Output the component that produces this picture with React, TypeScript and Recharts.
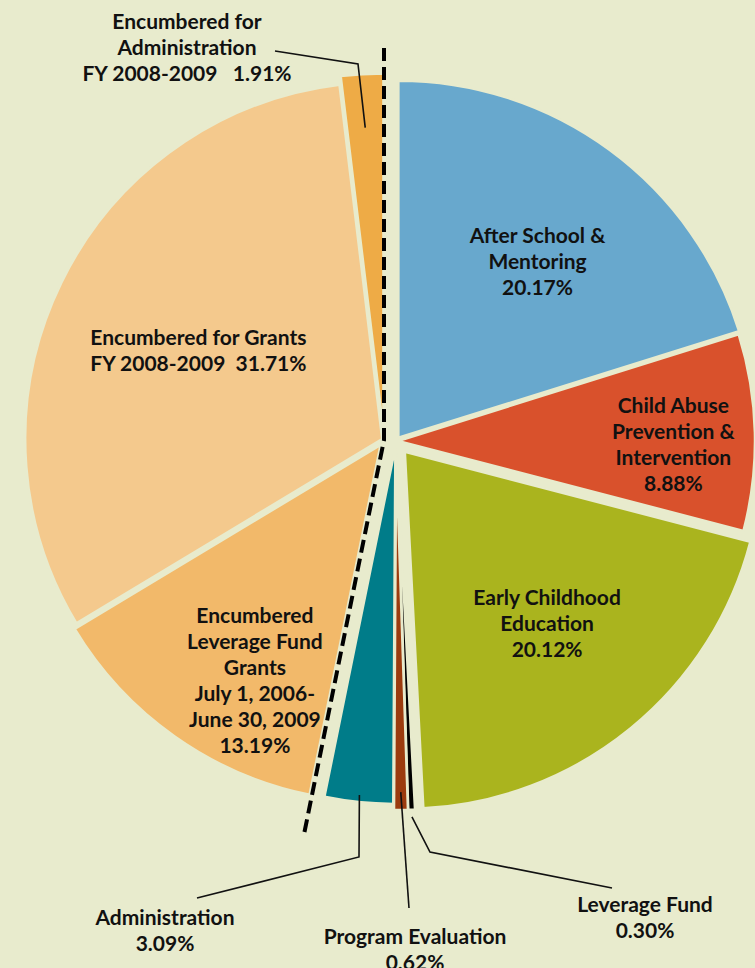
import React from 'react';
import { PieChart, Pie, Cell, Sector } from 'recharts';

// ---------- data ----------
const spentCategories = [
  'After School & Mentoring',
  'Child Abuse Prevention & Intervention',
  'Early Childhood Education',
  'Leverage Fund',
  'Program Evaluation',
  'Administration',
];
const spentValues = [20.17, 8.88, 20.12, 0.3, 0.62, 3.09];

const encumberedCategories = [
  'Encumbered Leverage Fund Grants',
  'Encumbered for Grants',
  'Encumbered for Administration',
];
const encumberedValues = [13.19, 31.71, 1.91];

// label text (value appended from the value arrays)
const labelHeads: Record<string, string[]> = {
  'After School & Mentoring': ['After School &', 'Mentoring'],
  'Child Abuse Prevention & Intervention': ['Child Abuse', 'Prevention &', 'Intervention'],
  'Early Childhood Education': ['Early Childhood', 'Education'],
  'Leverage Fund': ['Leverage Fund'],
  'Program Evaluation': ['Program Evaluation'],
  Administration: ['Administration'],
  'Encumbered Leverage Fund Grants': ['Encumbered', 'Leverage Fund', 'Grants', 'July 1, 2006-', 'June 30, 2009'],
  'Encumbered for Grants': ['Encumbered for Grants'],
  'Encumbered for Administration': ['Encumbered for', 'Administration'],
};
// text placed before the value on the same line (otherwise value on own line)
const inlinePrefix: Record<string, string> = {
  'Encumbered for Grants': 'FY 2008-2009  ',
  'Encumbered for Administration': 'FY 2008-2009   ',
};

// ---------- styles / layout ----------
const W = 755;
const H = 968;
const BG = '#e8ebcd';
const R = 357;
const CR = { x: 396, y: 441 }; // spent group centre
const CL = { x: 384, y: 440 }; // encumbered group centre
const GAP = 2.5;
const FONT = 'Lato, "Open Sans", sans-serif';
const FS = 21;
const LH = 26;

const spentColors = ['#68a8cd', '#d9512c', '#aab41e', '#000000', '#9b3b0e', '#007c89'];
const encumberedColors = ['#f2b96a', '#f4c98d', '#eeab46'];

const explode: Record<string, number> = {
  'After School & Mentoring': 4,
  'Child Abuse Prevention & Intervention': 2,
  'Early Childhood Education': 14,
  'Leverage Fund': 12,
  'Program Evaluation': 12,
  Administration: 6,
  'Encumbered Leverage Fund Grants': 6,
  'Encumbered for Grants': 2,
  'Encumbered for Administration': 9.5,
};

type InsideLayout = { kind: 'inside'; frac: number; dx: number; dy: number };
type OutsideLayout = { kind: 'outside'; frac: number; path: [number, number][]; tx: number; ty: number };
const labelLayout: Record<string, InsideLayout | OutsideLayout> = {
  'After School & Mentoring': { kind: 'inside', frac: 0.63, dx: 6, dy: 3.5 },
  'Child Abuse Prevention & Intervention': { kind: 'inside', frac: 0.78, dx: -3, dy: 9 },
  'Early Childhood Education': { kind: 'inside', frac: 0.635, dx: -1, dy: -5.5 },
  'Encumbered for Grants': { kind: 'inside', frac: 0.573, dx: 0, dy: 0 },
  'Encumbered Leverage Fund Grants': { kind: 'inside', frac: 0.744, dx: 27.5, dy: 18 },
  'Encumbered for Administration': { kind: 'outside', frac: 0.85, path: [[-26, -376], [-109, -389]], tx: -197, ty: -420 },
  Administration: { kind: 'outside', frac: 0.98, path: [[-37, 416], [-199, 457]], tx: -231, ty: 475 },
  'Program Evaluation': { kind: 'outside', frac: 0.95, path: [[13, 467]], tx: 19, ty: 494 },
  'Leverage Fund': { kind: 'outside', frac: 1.02, path: [[34, 411], [216, 447]], tx: 249, ty: 462 },
};

const RAD = Math.PI / 180;
const polar = (cx: number, cy: number, r: number, a: number) => ({
  x: cx + r * Math.cos(-a * RAD),
  y: cy + r * Math.sin(-a * RAD),
});

const spentData = spentCategories.map((name, i) => ({ name, value: spentValues[i] }));
const encumberedData = encumberedCategories.map((name, i) => ({ name, value: encumberedValues[i] }));

const total = [...spentValues, ...encumberedValues].reduce((a, b) => a + b, 0);
const spentSum = spentValues.reduce((a, b) => a + b, 0);
const splitAngle = 90 - (360 * spentSum) / total;

const keyOf = (p: any) => (p?.payload?.name ?? p?.name) as string;

function ExplodedSector(props: any) {
  const { cx, cy, innerRadius, outerRadius, startAngle, endAngle, midAngle, fill } = props;
  const d = explode[keyOf(props)] ?? 0;
  const o = polar(0, 0, d, midAngle);
  return (
    <Sector
      cx={cx + o.x}
      cy={cy + o.y}
      innerRadius={innerRadius}
      outerRadius={outerRadius}
      startAngle={startAngle}
      endAngle={endAngle}
      fill={fill}
      stroke={BG}
      strokeWidth={GAP}
    />
  );
}

function valueText(v: number) {
  return `${v.toFixed(2)}%`;
}

function renderLabel(props: any) {
  const { cx, cy, midAngle, outerRadius, value } = props;
  const key = keyOf(props);
  const L = labelLayout[key];
  if (!L) return null;
  const d = explode[key] ?? 0;
  const apex = polar(cx, cy, d, midAngle);
  const heads = labelHeads[key] || [];
  const lines = inlinePrefix[key] !== undefined ? [...heads, inlinePrefix[key] + valueText(value)] : [...heads, valueText(value)];
  const textStyle: React.CSSProperties = { whiteSpace: 'pre' };
  if (L.kind === 'inside') {
    const c = polar(apex.x, apex.y, outerRadius * L.frac, midAngle);
    const tx = c.x + L.dx;
    const ty = c.y + L.dy;
    const n = lines.length;
    return (
      <g>
        {lines.map((t, i) => (
          <text
            key={i}
            x={tx}
            y={ty + (i - (n - 1) / 2) * LH}
            textAnchor="middle"
            dominantBaseline="central"
            fontFamily={FONT}
            fontWeight={700}
            fontSize={FS}
            fill="#111"
            style={textStyle}
          >
            {t}
          </text>
        ))}
      </g>
    );
  }
  const a = polar(apex.x, apex.y, outerRadius * L.frac, midAngle);
  const pts = [a, ...L.path.map(([px, py]) => ({ x: cx + px, y: cy + py }))];
  const dPath = pts.map((p, i) => `${i === 0 ? 'M' : 'L'}${p.x},${p.y}`).join(' ');
  return (
    <g>
      <path d={dPath} fill="none" stroke="#111" strokeWidth={1.6} />
      {lines.map((t, i) => (
        <text
          key={i}
          x={cx + L.tx}
          y={cy + L.ty + i * LH}
          textAnchor="middle"
          dominantBaseline="central"
          fontFamily={FONT}
          fontWeight={700}
          fontSize={FS}
          fill="#111"
          style={textStyle}
        >
          {t}
        </text>
      ))}
    </g>
  );
}

export default function App() {
  const top = polar(CL.x, CL.y, R + 35, 90);
  const bottom = polar(CL.x, CL.y, R + 45, splitAngle);
  return (
    <div style={{ position: 'absolute', left: 0, top: 0, width: W, height: H, background: BG, overflow: 'hidden' }}>
      <PieChart width={W} height={H} margin={{ top: 0, right: 0, bottom: 0, left: 0 }}>
        <Pie
          data={spentData}
          dataKey="value"
          nameKey="name"
          cx={CR.x}
          cy={CR.y}
          innerRadius={0}
          outerRadius={R}
          startAngle={90}
          endAngle={splitAngle}
          isAnimationActive={false}
          shape={ExplodedSector}
          label={renderLabel}
          labelLine={false}
          stroke={BG}
        >
          {spentData.map((e, i) => (
            <Cell key={e.name} fill={spentColors[i]} />
          ))}
        </Pie>
        <Pie
          data={encumberedData}
          dataKey="value"
          nameKey="name"
          cx={CL.x}
          cy={CL.y}
          innerRadius={0}
          outerRadius={R}
          startAngle={splitAngle}
          endAngle={-270}
          isAnimationActive={false}
          shape={ExplodedSector}
          label={renderLabel}
          labelLine={false}
          stroke={BG}
        >
          {encumberedData.map((e, i) => (
            <Cell key={e.name} fill={encumberedColors[i]} />
          ))}
        </Pie>
      </PieChart>
      <svg width={W} height={H} style={{ position: 'absolute', left: 0, top: 0, pointerEvents: 'none' }}>
        <path
          d={`M${top.x},${top.y} L${CL.x},${CL.y} L${bottom.x},${bottom.y}`}
          fill="none"
          stroke="#000"
          strokeWidth={4}
          strokeDasharray="13 6"
        />
      </svg>
    </div>
  );
}
